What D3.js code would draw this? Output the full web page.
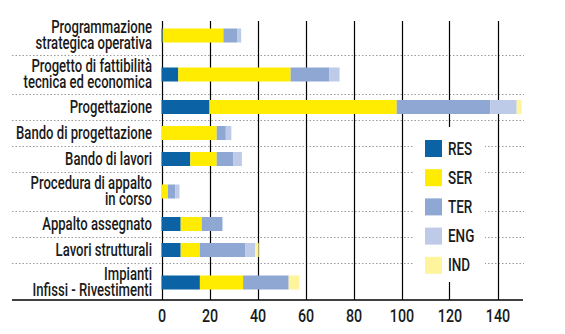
<!DOCTYPE html>
<html><head><meta charset="utf-8">
<script src="https://cdn.jsdelivr.net/npm/d3@7"></script>
<style>
body{margin:0;background:#fff;}
svg{display:block;font-family:Roboto,"DejaVu Sans Condensed",sans-serif;font-weight:500;}
</style></head>
<body><svg id="c" width="565" height="334"></svg>
<script>
const categories = [
  ["Programmazione","strategica operativa"],
  ["Progetto di fattibilità","tecnica ed economica"],
  ["Progettazione"],
  ["Bando di progettazione"],
  ["Bando di lavori"],
  ["Procedura di appalto","in corso"],
  ["Appalto assegnato"],
  ["Lavori strutturali"],
  ["Impianti","Infissi - Rivestimenti"]
];
const seriesKeys = ["RES","SER","TER","ENG","IND"];
const RES = [0.5, 7, 20, 0, 12, 0, 8, 8, 16];
const SER = [25.3, 46.8, 78, 23, 11, 2.7, 8.8, 8, 18];
const TER = [5.7, 16.2, 39, 3.8, 7, 3, 8.6, 19, 19];
const ENG = [1.7, 4.2, 11, 2.3, 3.5, 1.8, 0, 4, 0];
const IND = [0, 0, 2, 0, 0, 0, 0, 1.5, 4.5];
const xTicks = [0,20,40,60,80,100,120,140];
const colors = {RES:"#0b62a4",SER:"#ffec00",TER:"#8ea7d3",ENG:"#bdcbe8",IND:"#fff39c"};
const SX = 0.75; // horizontal condensing of the type

const svg = d3.select("#c");
const data = categories.map((c,i)=>({i, label:c, RES:RES[i], SER:SER[i], TER:TER[i], ENG:ENG[i], IND:IND[i]}));

const x = d3.scaleLinear().domain([0,140]).range([161.5,497.5]);
const weights = categories.map(c=>c.length>1?1.5:1);
const cum = [0]; weights.forEach(w=>cum.push(cum[cum.length-1]+w));
const yU = d3.scaleLinear().domain([0,cum[cum.length-1]]).range([16,302]);
const yTop = i=>yU(cum[i]), yBot = i=>yU(cum[i+1]), yMid = i=>(yTop(i)+yBot(i))/2;
const baseY = 300, topY = 21, barH = 14;

// dotted separators
svg.append("g").selectAll("line").data(d3.range(1,categories.length)).join("line")
  .attr("x1",12).attr("x2",524)
  .attr("y1",i=>Math.round(yTop(i))+0.5).attr("y2",i=>Math.round(yTop(i))+0.5)
  .attr("stroke","#9a9a9a").attr("stroke-width",1).attr("stroke-dasharray","1.5,2");

// vertical grid lines
svg.append("g").selectAll("line").data(xTicks).join("line")
  .attr("x1",d=>Math.round(x(d))+0.5).attr("x2",d=>Math.round(x(d))+0.5)
  .attr("y1",topY).attr("y2",baseY)
  .attr("stroke","#000").attr("stroke-width",1.2);

// bars
const stack = d3.stack().keys(seriesKeys)(data);
svg.append("g").selectAll("g").data(stack).join("g").attr("fill",s=>colors[s.key])
  .selectAll("rect").data(s=>s).join("rect")
  .attr("x",d=>x(d[0])).attr("width",d=>Math.max(0,x(d[1])-x(d[0])))
  .attr("y",(d,i)=>yMid(i)-barH/2).attr("height",barH);

// baseline
svg.append("line").attr("x1",12).attr("x2",523).attr("y1",baseY).attr("y2",baseY)
  .attr("stroke","#000").attr("stroke-width",1.5);

// x axis labels
const xAxis = d3.axisBottom(x).tickValues(xTicks).tickSize(0).tickPadding(0);
const ax = svg.append("g").attr("transform",`translate(0,${baseY})`).call(xAxis);
ax.select(".domain").remove();
ax.selectAll("text").attr("font-size",19).attr("fill","#1a1a1a").attr("dy","0").attr("y",22.5)
  .attr("transform",`scale(${SX},1)`)
  .style("font-family",'Roboto,"DejaVu Sans Condensed",sans-serif').style("font-weight",500);

// category labels
const LX = 152;
const lab = svg.append("g").attr("transform",`scale(${SX},1)`).selectAll("text").data(data).join("text")
  .attr("text-anchor","end").attr("font-size",17.5).attr("fill","#1a1a1a");
lab.each(function(d,i){
  const t = d3.select(this);
  const n = d.label.length, lh = 16;
  const y0 = yMid(i)+6 - (n-1)*lh/2;
  d.label.forEach((l,k)=>t.append("tspan").attr("x",LX/SX).attr("y",y0+k*lh).text(l));
});

// legend
const lg = svg.append("g");
lg.append("rect").attr("x",413).attr("y",127).attr("width",72).attr("height",155).attr("fill","#fff");
const li = lg.selectAll("g").data(seriesKeys).join("g")
  .attr("transform",(d,i)=>`translate(425,${140+i*29.2})`);
li.append("rect").attr("width",17).attr("height",17).attr("fill",d=>colors[d]);
li.append("text").attr("x",23/SX).attr("y",14.5).attr("font-size",18).attr("fill","#1a1a1a")
  .attr("transform",`scale(${SX},1)`).text(d=>d);
</script></body></html>
